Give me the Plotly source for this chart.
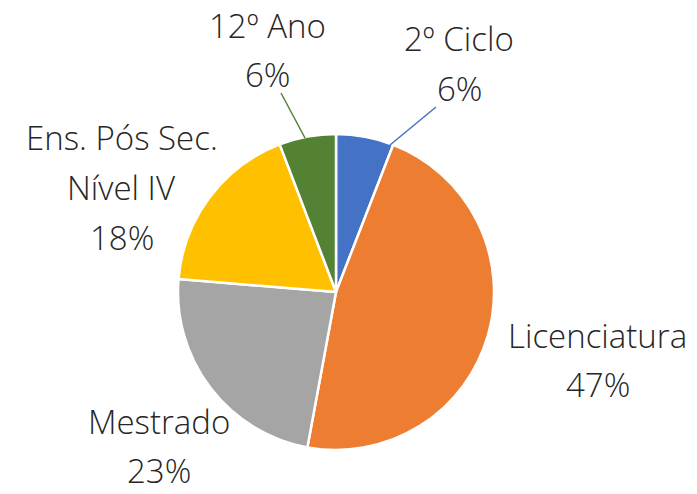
import plotly.graph_objects as go

# ---- data ----
labels = ["2º Ciclo", "Licenciatura", "Mestrado", "Ens. Pós Sec.<br>Nível IV", "12º Ano"]
values = [5.9, 47.0, 23.4, 17.9, 5.8]
colors = ["#4472C4", "#ED7D31", "#A5A5A5", "#FFC000", "#548235"]

# ---- layout helpers (page has an 8px body margin) ----
W, H, OFF = 697, 494, 8


def px(x, y):
    return (x - OFF) / W, 1 - (y - OFF) / H


# label anchor (center x, baseline of first line) in page pixels, and line gap
label_pos = [(459, 50), (597.5, 346), (159, 432), (121.5, 149), (267, 36)]
line_gap = 49.5
# leader lines for small slices (page pixels)
leaders = {0: ((390, 145), (436, 107)), 4: ((305, 138), (281, 93))}

fig = go.Figure(go.Pie(
    labels=[l.replace("<br>", " ") for l in labels],
    values=values,
    sort=False,
    direction="clockwise",
    rotation=0,
    marker=dict(colors=colors, line=dict(color="white", width=2.5)),
    textinfo="none",
    hoverinfo="label+percent",
    showlegend=False,
    domain=dict(x=[0.2439, 0.6973], y=[0.1053, 0.7449]),
))

total = sum(values)
annotations = []
for i, (lab, v) in enumerate(zip(labels, values)):
    lines = lab.split("<br>") + [f"{round(100 * v / total)}%"]
    cx, base = label_pos[i]
    for k, t in enumerate(lines):
        xp, yp = px(cx, base + k * line_gap - 11)
        annotations.append(dict(
            x=xp, y=yp, xref="paper", yref="paper",
            text=t, showarrow=False, xanchor="center", yanchor="middle",
            font=dict(family="Open Sans", size=33, color="#262626", weight=300),
        ))

shapes = []
for i, ((x0, y0), (x1, y1)) in leaders.items():
    a = px(x0, y0)
    b = px(x1, y1)
    shapes.append(dict(type="line", xref="paper", yref="paper",
                       x0=a[0], y0=a[1], x1=b[0], y1=b[1],
                       line=dict(color=colors[i], width=1.5)))

fig.update_layout(
    width=W, height=H,
    margin=dict(l=0, r=0, t=0, b=0),
    paper_bgcolor="white",
    plot_bgcolor="white",
    annotations=annotations,
    shapes=shapes,
)
fig.write_html("out.html")
